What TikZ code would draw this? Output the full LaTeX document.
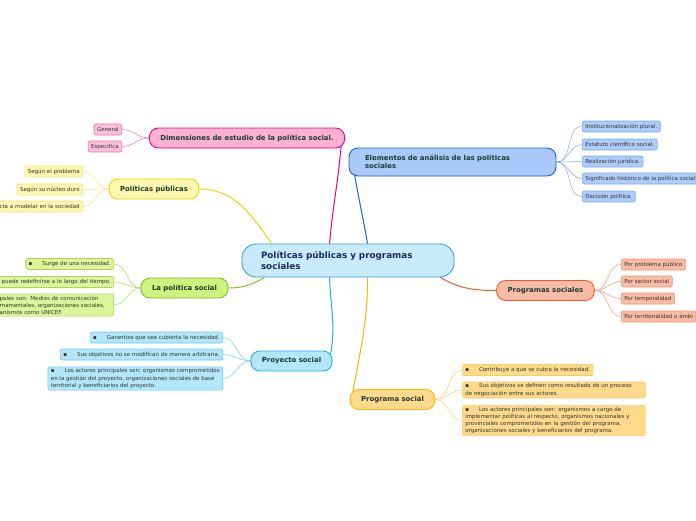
\documentclass[tikz,border=0pt]{standalone}
\usepackage{fontspec}
\setmainfont{DejaVu Sans}
\usetikzlibrary{positioning}
\definecolor{textDark}{HTML}{1B3B30}
\definecolor{textNavy}{HTML}{1A2A5C}
\definecolor{textLeaf}{HTML}{333333}
\definecolor{cenFill}{HTML}{C8EBFB}
\definecolor{cenLine}{HTML}{3E9BD8}
\definecolor{pinkFill}{HTML}{FCB0D2}
\definecolor{pinkLine}{HTML}{E6007E}
\definecolor{pinkLeaf}{HTML}{FDBFDB}
\definecolor{pinkSoft}{HTML}{F270AC}
\definecolor{yelFill}{HTML}{FFF7AE}
\definecolor{yelLine}{HTML}{E8D40E}
\definecolor{yelSoft}{HTML}{F2E47A}
\definecolor{grnFill}{HTML}{CDF27E}
\definecolor{grnLine}{HTML}{86BE1C}
\definecolor{grnLeaf}{HTML}{DAF59A}
\definecolor{grnSoft}{HTML}{AAD653}
\definecolor{cyaFill}{HTML}{B2E6FB}
\definecolor{cyaLine}{HTML}{29ABE2}
\definecolor{cyaSoft}{HTML}{70C8EE}
\definecolor{bluFill}{HTML}{A8C9FA}
\definecolor{bluLine}{HTML}{1F62C8}
\definecolor{bluLeaf}{HTML}{ADCCF8}
\definecolor{bluSoft}{HTML}{7FA9E8}
\definecolor{orgFill}{HTML}{F8BBA6}
\definecolor{orgLine}{HTML}{F15A24}
\definecolor{orgSoft}{HTML}{F59474}
\definecolor{ambFill}{HTML}{FFDA8C}
\definecolor{ambLine}{HTML}{F7B500}
\definecolor{ambSoft}{HTML}{F9CB66}
\tikzset{
  topicA/.style={rectangle, rounded corners=9pt, line width=0.9pt, inner xsep=11pt,
                 minimum height=20pt, font=\bfseries\fontsize{6.9}{8.3}\selectfont, text=textDark},
  leafA/.style={rectangle, rounded corners=2pt, line width=0.6pt, inner xsep=3pt,
                inner ysep=1.8pt, minimum height=11pt, align=left,
                font=\fontsize{5.5}{7.1}\selectfont, text=textLeaf},
  linkMain/.style={line width=1pt},
  linkLeaf/.style={line width=0.5pt},
}
\newcommand{\bul}{▪\hspace{10pt}}
\begin{document}
\begin{tikzpicture}[x=1pt, y=-1pt]
    \useasboundingbox (0,0) rectangle (696,520);
    % centro
    \node[rectangle, rounded corners=14pt, line width=0.9pt, draw=cenLine, fill=cenFill,
          minimum width=212pt, minimum height=33pt, inner xsep=19pt, text width=174pt,
          align=left, text=textNavy, font=\bfseries\fontsize{8.8}{10.5}\selectfont] (cen) at (348,260.5)
      {Políticas públicas y programas\\sociales};
    % ramas principales
    \node[topicA, draw=pinkLine, fill=pinkFill] (dim) at (247,138)
      {Dimensiones de estudio de la política social.};
    \node[topicA, draw=yelLine, fill=yelFill] (pp) at (154,189) {Políticas públicas};
    \node[topicA, draw=grnLine, fill=grnFill] (ps) at (184.5,288) {La política social};
    \node[topicA, draw=cyaLine, fill=cyaFill] (proy) at (291.5,361) {Proyecto social};
    \node[topicA, draw=bluLine, fill=bluFill, minimum width=207pt, minimum height=28pt,
          inner xsep=16pt, text width=175pt, align=left] (elem) at (452.5,162)
      {Elementos de análisis de las políticas\\sociales};
    \node[topicA, draw=orgLine, fill=orgFill] (pss) at (545.5,290.5) {Programas sociales};
    \node[topicA, draw=ambLine, fill=ambFill] (prog) at (392.5,399.5) {Programa social};
    % hojas
    \node[leafA, draw=pinkSoft, fill=pinkLeaf, anchor=east] (dimA) at (122,129.5) {General};
    \node[leafA, draw=pinkSoft, fill=pinkLeaf, anchor=east] (dimB) at (122,146.5) {Especifica};
    \node[leafA, draw=yelSoft, fill=yelFill, anchor=east] (ppA) at (83,171.5) {Según el problema};
    \node[leafA, draw=yelSoft, fill=yelFill, anchor=east] (ppB) at (83,189.5) {Según su núcleo duro};
    \node[leafA, draw=yelSoft, fill=yelFill, anchor=east, text width=95pt, align=right] (ppC) at (83,206.5)
      {cta a modelar en la sociedad};
    \node[leafA, draw=grnSoft, fill=grnLeaf, anchor=east] (psA) at (114,264)
      {\bul Surge de una necesidad.};
    \node[leafA, draw=grnSoft, fill=grnLeaf, anchor=east, text width=124pt, align=right] (psB) at (114,282)
      {puede redefinirse a lo largo del tiempo.};
    \node[leafA, draw=grnSoft, fill=grnLeaf, anchor=east, text width=125pt] (psC) at (114,305)
      {\hspace*{14pt}pales son: Medios de comunicación\\\hspace*{14pt}rnamentales, organizaciones sociales,\\\hspace*{14pt}anismos como UNICEF.};
    \node[leafA, draw=cyaSoft, fill=cyaFill, anchor=east] (proyA) at (223,337.5)
      {\bul Garantiza que sea cubierta la necesidad.};
    \node[leafA, draw=cyaSoft, fill=cyaFill, anchor=east] (proyB) at (223,354.5)
      {\bul Sus objetivos no se modifican de manera arbitraria.};
    \node[leafA, draw=cyaSoft, fill=cyaFill, anchor=east] (proyC) at (223,378.5)
      {\bul Los actores principales son: organismos comprometidos\\en la gestión del proyecto, organizaciones sociales de base\\territorial y beneficiarios del proyecto.};
    \node[leafA, draw=bluSoft, fill=bluLeaf, anchor=west] (elemA) at (582,126.5) {Institucionalización plural.};
    \node[leafA, draw=bluSoft, fill=bluLeaf, anchor=west] (elemB) at (582,144.5) {Estatuto científico social.};
    \node[leafA, draw=bluSoft, fill=bluLeaf, anchor=west] (elemC) at (582,161.5) {Realización jurídica.};
    \node[leafA, draw=bluSoft, fill=bluLeaf, anchor=west] (elemD) at (582,178.5)
      {Significado histórico de la política social};
    \node[leafA, draw=bluSoft, fill=bluLeaf, anchor=west] (elemE) at (582,196.5) {Decisión política.};
    \node[leafA, draw=orgSoft, fill=orgFill, anchor=west] (pssA) at (621,264.5) {Por problema público};
    \node[leafA, draw=orgSoft, fill=orgFill, anchor=west] (pssB) at (621,281.5) {Por sector social};
    \node[leafA, draw=orgSoft, fill=orgFill, anchor=west] (pssC) at (621,298.5) {Por temporalidad};
    \node[leafA, draw=orgSoft, fill=orgFill, anchor=west] (pssD) at (621,316.5) {Por territorialidad o ámbi};
    \node[leafA, draw=ambSoft, fill=ambFill, anchor=west] (progA) at (462,370)
      {\bul Contribuye a que se cubra la necesidad.};
    \node[leafA, draw=ambSoft, fill=ambFill, anchor=west, text width=177pt] (progB) at (462,390)
      {\bul Sus objetivos se definen como resultado de un proceso\\de negociación entre sus actores.};
    \node[leafA, draw=ambSoft, fill=ambFill, anchor=west, text width=177pt] (progC) at (462,420.5)
      {\bul Los actores principales son: organismos a cargo de\\implementar políticas al respecto, organismos nacionales y\\provinciales comprometidos en la gestión del programa,\\organizaciones sociales y beneficiarios del programa.};
    % conectores principales
    \draw[linkMain, pinkLine] ([xshift=88pt]cen.north west) to[out=85, in=-95] ([xshift=-4pt, yshift=2pt]dim.south east);
    \draw[linkMain, yelLine] ([xshift=30pt]cen.north west) to[out=125, in=0] (pp.east);
    \draw[linkMain, bluLine] ([xshift=126pt]cen.north west) to[out=100, in=-80] ([xshift=6pt, yshift=2pt]elem.south west);
    \draw[linkMain, grnLine] ([xshift=23pt]cen.south west) to[out=-150, in=0] (ps.east);
    \draw[linkMain, cyaLine] ([xshift=88pt]cen.south west) to[out=-88, in=80] ([xshift=-2pt, yshift=-4pt]proy.north east);
    \draw[linkMain, ambLine] ([xshift=126pt]cen.south west) to[out=-90, in=80] ([xshift=3pt, yshift=-4pt]prog.north west);
    \draw[linkMain, orgLine] ([xshift=-14pt]cen.south east) to[out=-30, in=180] (pss.west);
    % conectores de hojas
    \foreach \leaf in {dimA, dimB}
      \draw[linkLeaf, pinkSoft] (dim.west) to[out=180, in=0] (\leaf.east);
    \foreach \leaf in {ppA, ppB, ppC}
      \draw[linkLeaf, yelSoft] (pp.west) to[out=180, in=0] (\leaf.east);
    \foreach \leaf in {psA, psB, psC}
      \draw[linkLeaf, grnSoft] (ps.west) to[out=180, in=0] (\leaf.east);
    \foreach \leaf in {proyA, proyB, proyC}
      \draw[linkLeaf, cyaSoft] (proy.west) to[out=180, in=0] (\leaf.east);
    \foreach \leaf in {elemA, elemB, elemC, elemD, elemE}
      \draw[linkLeaf, bluSoft] (elem.east) to[out=0, in=180] (\leaf.west);
    \foreach \leaf in {pssA, pssB, pssC, pssD}
      \draw[linkLeaf, orgSoft] (pss.east) to[out=0, in=180] (\leaf.west);
    \foreach \leaf in {progA, progB, progC}
      \draw[linkLeaf, ambSoft] (prog.east) to[out=0, in=180] (\leaf.west);
\end{tikzpicture}
\end{document}
